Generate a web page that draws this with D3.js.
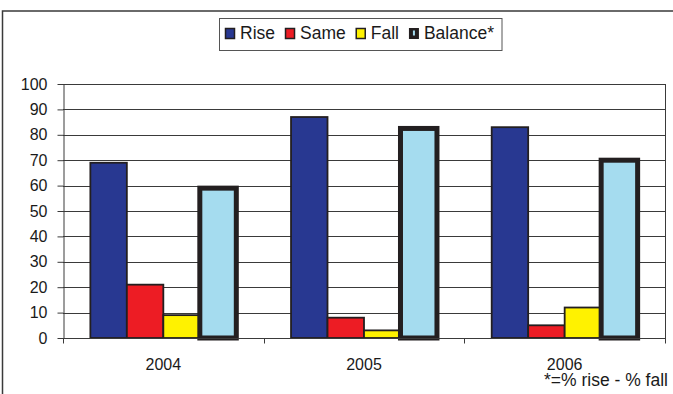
<!DOCTYPE html>
<html>
<head>
<meta charset="utf-8">
<script src="https://cdn.jsdelivr.net/npm/d3@7"></script>
<style>
  html, body { margin: 0; padding: 0; background: #fff; }
  svg { display: block; font-family: "Liberation Sans", Arial, sans-serif; }
</style>
</head>
<body>
<svg id="chart" width="673" height="394"></svg>
<script>
// Survey responses by year (% of respondents)
const years = ["2004", "2005", "2006"];
const seriesNames = ["Rise", "Same", "Fall", "Balance*"];
const riseValues = [69, 87, 83];
const sameValues = [21, 8, 5];
const fallValues = [9, 3, 12];
const balanceValues = [59, 82.5, 70];
const yTicks = [0, 10, 20, 30, 40, 50, 60, 70, 80, 90, 100];
const footnote = "*=% rise - % fall";

const seriesValues = [riseValues, sameValues, fallValues, balanceValues];
const fills = ["#283891", "#ed1c24", "#fff200", "#a5dcef"];
const borderWidths = [1.8, 1.8, 1.8, 5];
const ink = "#231f20";

const svg = d3.select("#chart");
const plot = { left: 63, right: 665, top: 84, bottom: 338 };

// outer frame (top and left edges)
svg.append("path")
  .attr("d", `M2.5,394 V11 H673`)
  .attr("fill", "none").attr("stroke", "#3a3a3a").attr("stroke-width", 1.5);

const x = d3.scaleBand().domain(years).range([plot.left, plot.right]).paddingInner(0).paddingOuter(0);
const xs = d3.scaleBand().domain(seriesNames).range([0, x.bandwidth()]).paddingInner(0).paddingOuter(0.75);
const y = d3.scaleLinear().domain([0, 100]).range([plot.bottom, plot.top]);

// horizontal gridlines
svg.append("g").selectAll("line").data(yTicks.filter(t => t > 0)).join("line")
  .attr("x1", plot.left).attr("x2", plot.right)
  .attr("y1", d => Math.round(y(d)) + 0.5).attr("y2", d => Math.round(y(d)) + 0.5)
  .attr("stroke", "#3a3a3a").attr("stroke-width", 1);

// right edge of the plot area
svg.append("line")
  .attr("x1", plot.right + 0.5).attr("x2", plot.right + 0.5)
  .attr("y1", plot.top).attr("y2", plot.bottom)
  .attr("stroke", "#3a3a3a").attr("stroke-width", 1);

// bars
const rows = [];
years.forEach((yr, i) => seriesNames.forEach((s, j) => rows.push({ yr, s, j, v: seriesValues[j][i] })));
svg.append("g").selectAll("rect").data(rows).join("rect")
  .attr("x", d => x(d.yr) + xs(d.s))
  .attr("width", xs.bandwidth())
  .attr("y", d => y(d.v))
  .attr("height", d => y(0) - y(d.v))
  .attr("fill", d => fills[d.j])
  .attr("stroke", ink)
  .attr("stroke-width", d => borderWidths[d.j]);

// y axis
const yAxis = svg.append("g")
  .attr("transform", `translate(${plot.left + 0.5},0)`)
  .call(d3.axisLeft(y).tickValues(yTicks).tickSize(6).tickPadding(10).tickSizeOuter(0));
yAxis.select(".domain").attr("stroke", "#3a3a3a");
yAxis.selectAll(".tick line").attr("stroke", "#3a3a3a");
yAxis.selectAll("text").attr("font-size", 16).attr("fill", "#1a1a1a")
  .attr("font-family", "Liberation Sans, Arial, sans-serif");

// x axis line with category-boundary ticks
const xAxis = svg.append("g")
  .attr("transform", `translate(0,${plot.bottom + 0.5})`)
  .call(d3.axisBottom(x).tickSize(0).tickPadding(0));
xAxis.select(".domain").attr("stroke", "#3a3a3a").attr("d", `M${plot.left},0H${plot.right + 1}`);
xAxis.selectAll("text").attr("font-size", 16).attr("fill", "#1a1a1a")
  .attr("font-family", "Liberation Sans, Arial, sans-serif")
  .attr("dy", null).attr("y", 31);
const boundaries = years.map(d => x(d)).concat([plot.right]);
xAxis.append("g").selectAll("line").data(boundaries).join("line")
  .attr("x1", d => Math.round(d) + 0.5).attr("x2", d => Math.round(d) + 0.5)
  .attr("y1", 0).attr("y2", 5)
  .attr("stroke", "#3a3a3a");

// legend
const legend = svg.append("g").attr("font-size", 17.5).attr("fill", "#1a1a1a");
const legendBox = legend.append("rect")
  .attr("y", 18.5).attr("height", 32)
  .attr("fill", "#fff").attr("stroke", "#555").attr("stroke-width", 1);
let lx = 225;
seriesNames.forEach((s, j) => {
  const g = legend.append("g");
  if (j < 3) {
    g.append("rect").attr("x", lx + 0.5).attr("y", 28.5).attr("width", 9).attr("height", 10)
      .attr("fill", fills[j]).attr("stroke", ink).attr("stroke-width", 1.5);
  } else {
    g.append("rect").attr("x", lx).attr("y", 28).attr("width", 10).attr("height", 11).attr("fill", ink);
    g.append("rect").attr("x", lx + 4).attr("y", 30.5).attr("width", 2).attr("height", 5).attr("fill", fills[j]);
  }
  const t = g.append("text").attr("x", lx + 15).attr("y", 38.5).text(s);
  lx += 15 + t.node().getComputedTextLength() + 10;
});
legendBox.attr("x", 219.5).attr("width", lx - 2 - 219.5);

// footnote
svg.append("text")
  .attr("x", 668).attr("y", 386).attr("text-anchor", "end")
  .attr("font-size", 17.5).attr("fill", "#1a1a1a")
  .text(footnote);
</script>
</body>
</html>
